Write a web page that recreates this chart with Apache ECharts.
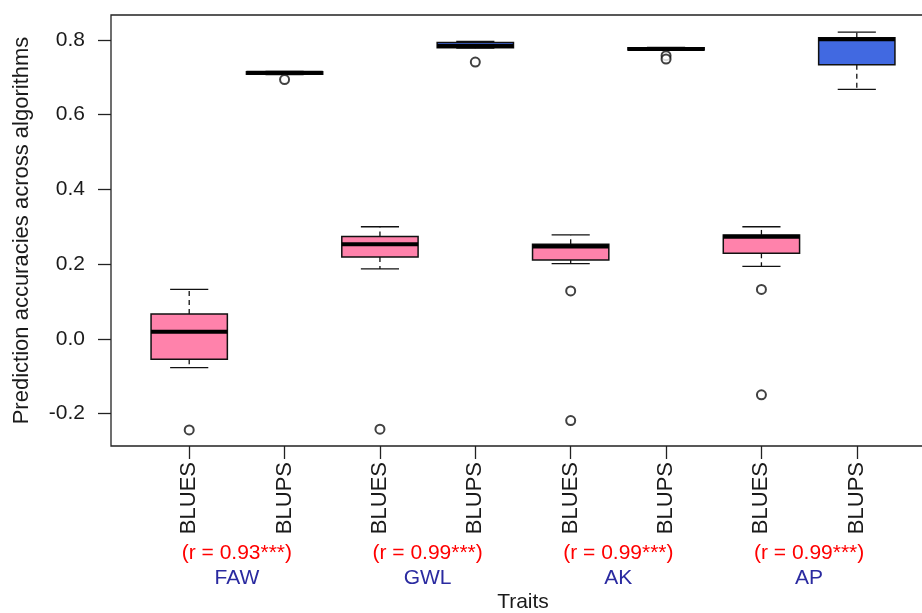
<!DOCTYPE html>
<html>
<head>
<meta charset="utf-8">
<script src="https://cdn.jsdelivr.net/npm/echarts@6/dist/echarts.min.js"></script>
<style>
  html, body { margin: 0; padding: 0; background: #fff; }
  #chart { width: 922px; height: 613px; }
</style>
</head>
<body>
<div id="chart"></div>
<script>
// box statistics, one entry per box (left to right)
var categories = ['BLUES', 'BLUPS', 'BLUES', 'BLUPS', 'BLUES', 'BLUPS', 'BLUES', 'BLUPS']
var lowWhisker = [-0.077, 0.707, 0.187, 0.778, 0.201, 0.773, 0.194, 0.668]
var q1 = [-0.055, 0.708, 0.219, 0.779, 0.211, 0.773, 0.229, 0.734]
var medians = [0.019, 0.712, 0.253, 0.784, 0.247, 0.776, 0.273, 0.802]
var q3 = [0.066, 0.715, 0.274, 0.793, 0.253, 0.779, 0.278, 0.806]
var highWhisker = [0.132, 0.716, 0.300, 0.796, 0.278, 0.780, 0.300, 0.821]
// outliers as [box number, value]
var outliers = [
  [1, -0.244], [2, 0.694], [3, -0.242], [4, 0.741],
  [5, 0.128], [5, -0.219], [6, 0.758], [6, 0.749],
  [7, 0.132], [7, -0.150]
]
var traits = ['FAW', 'GWL', 'AK', 'AP']
var rLabels = ['(r = 0.93***)', '(r = 0.99***)', '(r = 0.99***)', '(r = 0.99***)']
var yTicks = [-0.2, 0.0, 0.2, 0.4, 0.6, 0.8]

var FONT = 'Liberation Sans, Arial, sans-serif'
var boxColors = { BLUES: '#FF82AB', BLUPS: '#4169E1' }

var positions = categories.map(function (c, i) { return i + 1 })
var traitPositions = traits.map(function (t, i) { return i * 2 + 1.5 })

var boxData = categories.map(function (c, i) {
  return [i + 1, lowWhisker[i], q1[i], medians[i], q3[i], highWhisker[i]]
})

function renderBox(params, api) {
  var x = api.value(0)
  var lo = api.coord([x, api.value(1)])
  var b1 = api.coord([x, api.value(2)])
  var md = api.coord([x, api.value(3)])
  var b3 = api.coord([x, api.value(4)])
  var hi = api.coord([x, api.value(5)])
  var w = api.size([0.8, 0])[0]
  var cx = lo[0]
  var fill = boxColors[categories[params.dataIndex]]
  var thin = { stroke: '#111', lineWidth: 1.3 }
  var dashed = { stroke: '#111', lineWidth: 1.3, lineDash: [5, 4] }
  return {
    type: 'group',
    children: [
      { type: 'line', shape: { x1: cx, y1: b3[1], x2: cx, y2: hi[1] }, style: dashed },
      { type: 'line', shape: { x1: cx, y1: b1[1], x2: cx, y2: lo[1] }, style: dashed },
      { type: 'line', shape: { x1: cx - w / 4, y1: hi[1], x2: cx + w / 4, y2: hi[1] }, style: thin },
      { type: 'line', shape: { x1: cx - w / 4, y1: lo[1], x2: cx + w / 4, y2: lo[1] }, style: thin },
      {
        type: 'rect',
        shape: { x: cx - w / 2, y: b3[1], width: w, height: b1[1] - b3[1] },
        style: { fill: fill, stroke: '#111', lineWidth: 1.5 }
      },
      { type: 'line', shape: { x1: cx - w / 2, y1: md[1], x2: cx + w / 2, y2: md[1] }, style: { stroke: '#000', lineWidth: 4 } }
    ]
  }
}

var chart = echarts.init(document.getElementById('chart'))
chart.setOption({
  animation: false,
  backgroundColor: '#fff',
  textStyle: { fontFamily: FONT },
  grid: {
    left: 111, top: 15, right: -13, bottom: 167,
    outerBoundsMode: 'none', containLabel: false,
    show: true, borderColor: '#222', borderWidth: 1.3, backgroundColor: 'transparent'
  },
  xAxis: [
    {
      type: 'value', min: 0.18, max: 8.82,
      splitLine: { show: false },
      axisLine: { show: false, onZero: false },
      axisTick: { show: true, length: 13, customValues: positions, lineStyle: { color: '#222', width: 1.3 } },
      axisLabel: {
        customValues: positions, rotate: 90, margin: 16,
        fontSize: 22, color: '#1a1a1a', fontFamily: FONT,
        formatter: function (v) { return categories[Math.round(v) - 1] }
      },
      name: 'Traits', nameLocation: 'middle', nameGap: 146,
      nameTextStyle: { fontSize: 21, color: '#1a1a1a', fontFamily: FONT }
    },
    {
      type: 'value', min: 0.18, max: 8.82, position: 'bottom', offset: 95,
      splitLine: { show: false },
      axisLine: { show: false, onZero: false },
      axisTick: { show: false },
      axisLabel: {
        customValues: traitPositions, margin: 0, fontFamily: FONT,
        formatter: function (v) {
          var k = Math.round((v - 1.5) / 2)
          return '{r|' + rLabels[k] + '}\n{t|' + traits[k] + '}'
        },
        rich: {
          r: { color: '#ff0000', fontSize: 21, lineHeight: 25, fontFamily: FONT },
          t: { color: '#2a2aa0', fontSize: 21, lineHeight: 25, fontFamily: FONT }
        }
      }
    }
  ],
  yAxis: {
    type: 'value', min: -0.2871, max: 0.8669,
    splitLine: { show: false },
    axisLine: { show: false, onZero: false },
    axisTick: { show: true, length: 13, customValues: yTicks, lineStyle: { color: '#222', width: 1.3 } },
    axisLabel: {
      customValues: yTicks, margin: 26, fontSize: 21, color: '#1a1a1a', fontFamily: FONT,
      formatter: function (v) { return v.toFixed(1) }
    },
    name: 'Prediction accuracies across algorithms', nameLocation: 'middle', nameGap: 78,
    nameTextStyle: { fontSize: 22, color: '#1a1a1a', fontFamily: FONT }
  },
  series: [
    {
      type: 'custom',
      xAxisIndex: 0,
      renderItem: renderBox,
      encode: { x: 0, y: [1, 2, 3, 4, 5] },
      data: boxData,
      z: 2
    },
    {
      type: 'scatter',
      xAxisIndex: 0,
      symbol: 'emptyCircle',
      symbolSize: 9,
      itemStyle: { color: '#111', borderWidth: 1.3 },
      data: outliers,
      z: 3
    }
  ]
})
</script>
</body>
</html>
